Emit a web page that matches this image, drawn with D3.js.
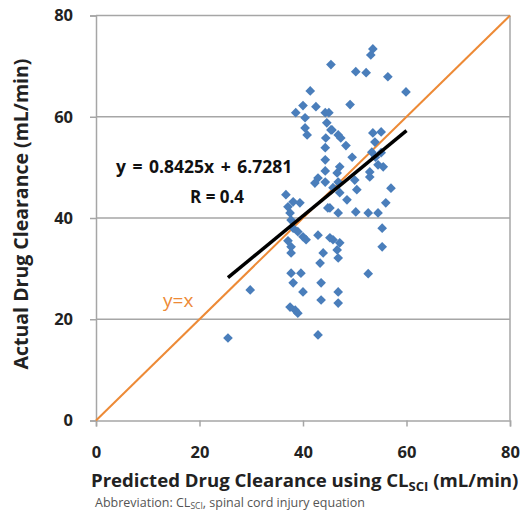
<!DOCTYPE html>
<html>
<head>
<meta charset="utf-8">
<script src="https://cdn.jsdelivr.net/npm/d3@7.9.0/dist/d3.min.js"></script>
<style>
  body { margin: 0; background: #fff; }
  svg { font-family: "Open Sans", "Noto Sans", sans-serif; }
</style>
</head>
<body>
<svg id="chart" width="527" height="515"></svg>
<script>
// predicted clearance (CL_SCI) values, mL/min
const predicted = [
  53.5, 53.1, 45.4, 41.4, 50.2, 52.2, 56.4, 59.9, 49.1, 40.0,
  42.5, 38.6, 44.3, 40.4, 40.4, 40.8, 44.6, 45.6, 44.4, 44.3,
  44.3, 44.3, 46.8, 47.3, 48.3, 53.5, 55.1, 53.9, 55.1, 55.5,
  54.5, 52.9, 52.9, 47.1, 46.6, 42.9, 44.3, 42.3, 46.8, 50.0,
  50.4, 57.0, 47.1, 48.5, 56.0, 45.2, 46.8, 50.2, 52.6, 54.5,
  55.3, 55.3, 52.6, 45.8, 47.1, 46.6, 46.8, 46.8, 46.8, 36.7,
  38.1, 39.4, 37.1, 37.5, 37.7, 38.1, 39.0, 40.0, 40.6, 37.1,
  37.7, 37.7, 37.7, 39.6, 38.1, 40.0, 37.5, 38.5, 39.0, 42.9,
  45.2, 43.9, 43.3, 43.5, 43.5, 42.9, 29.8, 25.5, 44.8, 45.0,
  45.4, 49.5, 54.0, 53.3, 45.8
];
// actual clearance values, mL/min
const actual = [
  73.4, 72.2, 70.3, 65.1, 68.9, 68.7, 67.9, 64.9, 62.4, 62.2,
  62.0, 60.8, 60.8, 59.8, 57.8, 56.4, 58.8, 57.4, 55.8, 53.9,
  51.5, 49.3, 56.4, 55.8, 54.3, 56.8, 57.0, 55.0, 52.9, 50.1,
  50.5, 49.1, 48.1, 50.1, 48.9, 47.9, 47.1, 46.9, 47.1, 47.5,
  45.6, 45.9, 45.0, 43.6, 43.0, 42.0, 41.0, 41.2, 41.0, 41.0,
  38.0, 34.3, 29.0, 35.7, 35.1, 33.7, 32.1, 25.4, 23.2, 44.6,
  43.2, 43.0, 42.2, 41.0, 39.6, 38.0, 37.3, 36.3, 35.7, 35.5,
  34.3, 33.1, 29.1, 29.1, 27.2, 25.4, 22.4, 21.8, 21.2, 36.6,
  36.1, 33.1, 31.1, 27.2, 23.8, 16.9, 25.8, 16.3, 42.0, 60.8,
  57.4, 52.0, 52.0, 53.0, 46.0
];
const xTicks = [0, 20, 40, 60, 80];
const yTicks = [0, 20, 40, 60, 80];
const slope = 0.8425, intercept = 6.7281;
const fitRange = [25.5, 60];
const identityRange = [0, 80];

const svg = d3.select('#chart');
const x = d3.scaleLinear().domain([0, 80]).range([96, 510]);
const y = d3.scaleLinear().domain([0, 80]).range([420.5, 15.5]);

// gridlines
svg.append('g')
  .selectAll('line')
  .data(yTicks.filter(d => d > 0))
  .join('line')
  .attr('x1', x(0)).attr('x2', x(80))
  .attr('y1', d => y(d)).attr('y2', d => y(d))
  .attr('stroke', '#a6a6a6').attr('stroke-width', 1.5);

// right border
svg.append('line')
  .attr('x1', x(80)).attr('x2', x(80))
  .attr('y1', y(80)).attr('y2', y(0))
  .attr('stroke', '#a6a6a6').attr('stroke-width', 1.5);

// axes
const xAxis = svg.append('g')
  .attr('transform', `translate(0,${y(0)})`)
  .call(d3.axisBottom(x).tickValues(xTicks).tickSize(6).tickPadding(20));
const yAxis = svg.append('g')
  .attr('transform', `translate(${x(0)},0)`)
  .call(d3.axisLeft(y).tickValues(yTicks).tickSize(6).tickPadding(17));

[xAxis, yAxis].forEach(g => {
  g.selectAll('path, line').attr('stroke', '#a6a6a6').attr('stroke-width', 1.5);
  g.selectAll('text')
    .attr('fill', '#222')
    .style('font-size', '16.5px')
    .style('font-weight', 'bold')
    .style('font-family', '"Open Sans", sans-serif');
});

// y = x line
svg.append('line')
  .attr('x1', x(identityRange[0])).attr('y1', y(identityRange[0]))
  .attr('x2', x(identityRange[1])).attr('y2', y(identityRange[1]))
  .attr('stroke', '#ed8a36').attr('stroke-width', 2);

// points
const pts = predicted.map((p, i) => ({ p, a: actual[i] }));
const diamond = d3.symbol().type(d3.symbolDiamond2).size(60);
svg.append('g')
  .selectAll('path')
  .data(pts)
  .join('path')
  .attr('d', diamond)
  .attr('transform', d => `translate(${x(d.p)},${y(d.a)})`)
  .attr('fill', '#4a7ebb');

// regression line
svg.append('line')
  .attr('x1', x(fitRange[0])).attr('y1', y(slope * fitRange[0] + intercept))
  .attr('x2', x(fitRange[1])).attr('y2', y(slope * fitRange[1] + intercept))
  .attr('stroke', '#000').attr('stroke-width', 3.5);

// annotations
svg.append('text')
  .attr('x', 116).attr('y', 173)
  .style('font-size', '17.5px').style('font-weight', 'bold')
  .style('word-spacing', '2px')
  .attr('fill', '#111')
  .text(`y = ${slope}x + ${intercept}`);
svg.append('text')
  .attr('x', 190).attr('y', 203)
  .style('font-size', '17px').style('font-weight', 'bold')
  .attr('fill', '#111')
  .text('R = 0.4');
svg.append('text')
  .attr('x', 163).attr('y', 307)
  .style('font-size', '19px')
  .attr('fill', '#ed8a36')
  .text('y=x');

// axis titles
const xt = svg.append('text')
  .attr('x', 91).attr('y', 487)
  .style('font-size', '18.6px').style('font-weight', 'bold')
  .attr('fill', '#222');
xt.append('tspan').text('Predicted Drug Clearance using CL');
xt.append('tspan').attr('dy', 4).style('font-size', '13px').text('SCI');
xt.append('tspan').attr('dy', -4).text(' (mL/min)');

svg.append('text')
  .attr('transform', 'translate(28,214) rotate(-90)')
  .attr('text-anchor', 'middle')
  .style('font-size', '19.5px').style('font-weight', 'bold')
  .attr('fill', '#222')
  .text('Actual Drug Clearance (mL/min)');

// footnote
const fn = svg.append('text')
  .attr('x', 95).attr('y', 507)
  .style('font-size', '12.5px')
  .attr('fill', '#555');
fn.append('tspan').text('Abbreviation:  CL');
fn.append('tspan').attr('dy', 2).style('font-size', '8.5px').text('SCI');
fn.append('tspan').attr('dy', -2).text(', spinal cord injury equation');
</script>
</body>
</html>
